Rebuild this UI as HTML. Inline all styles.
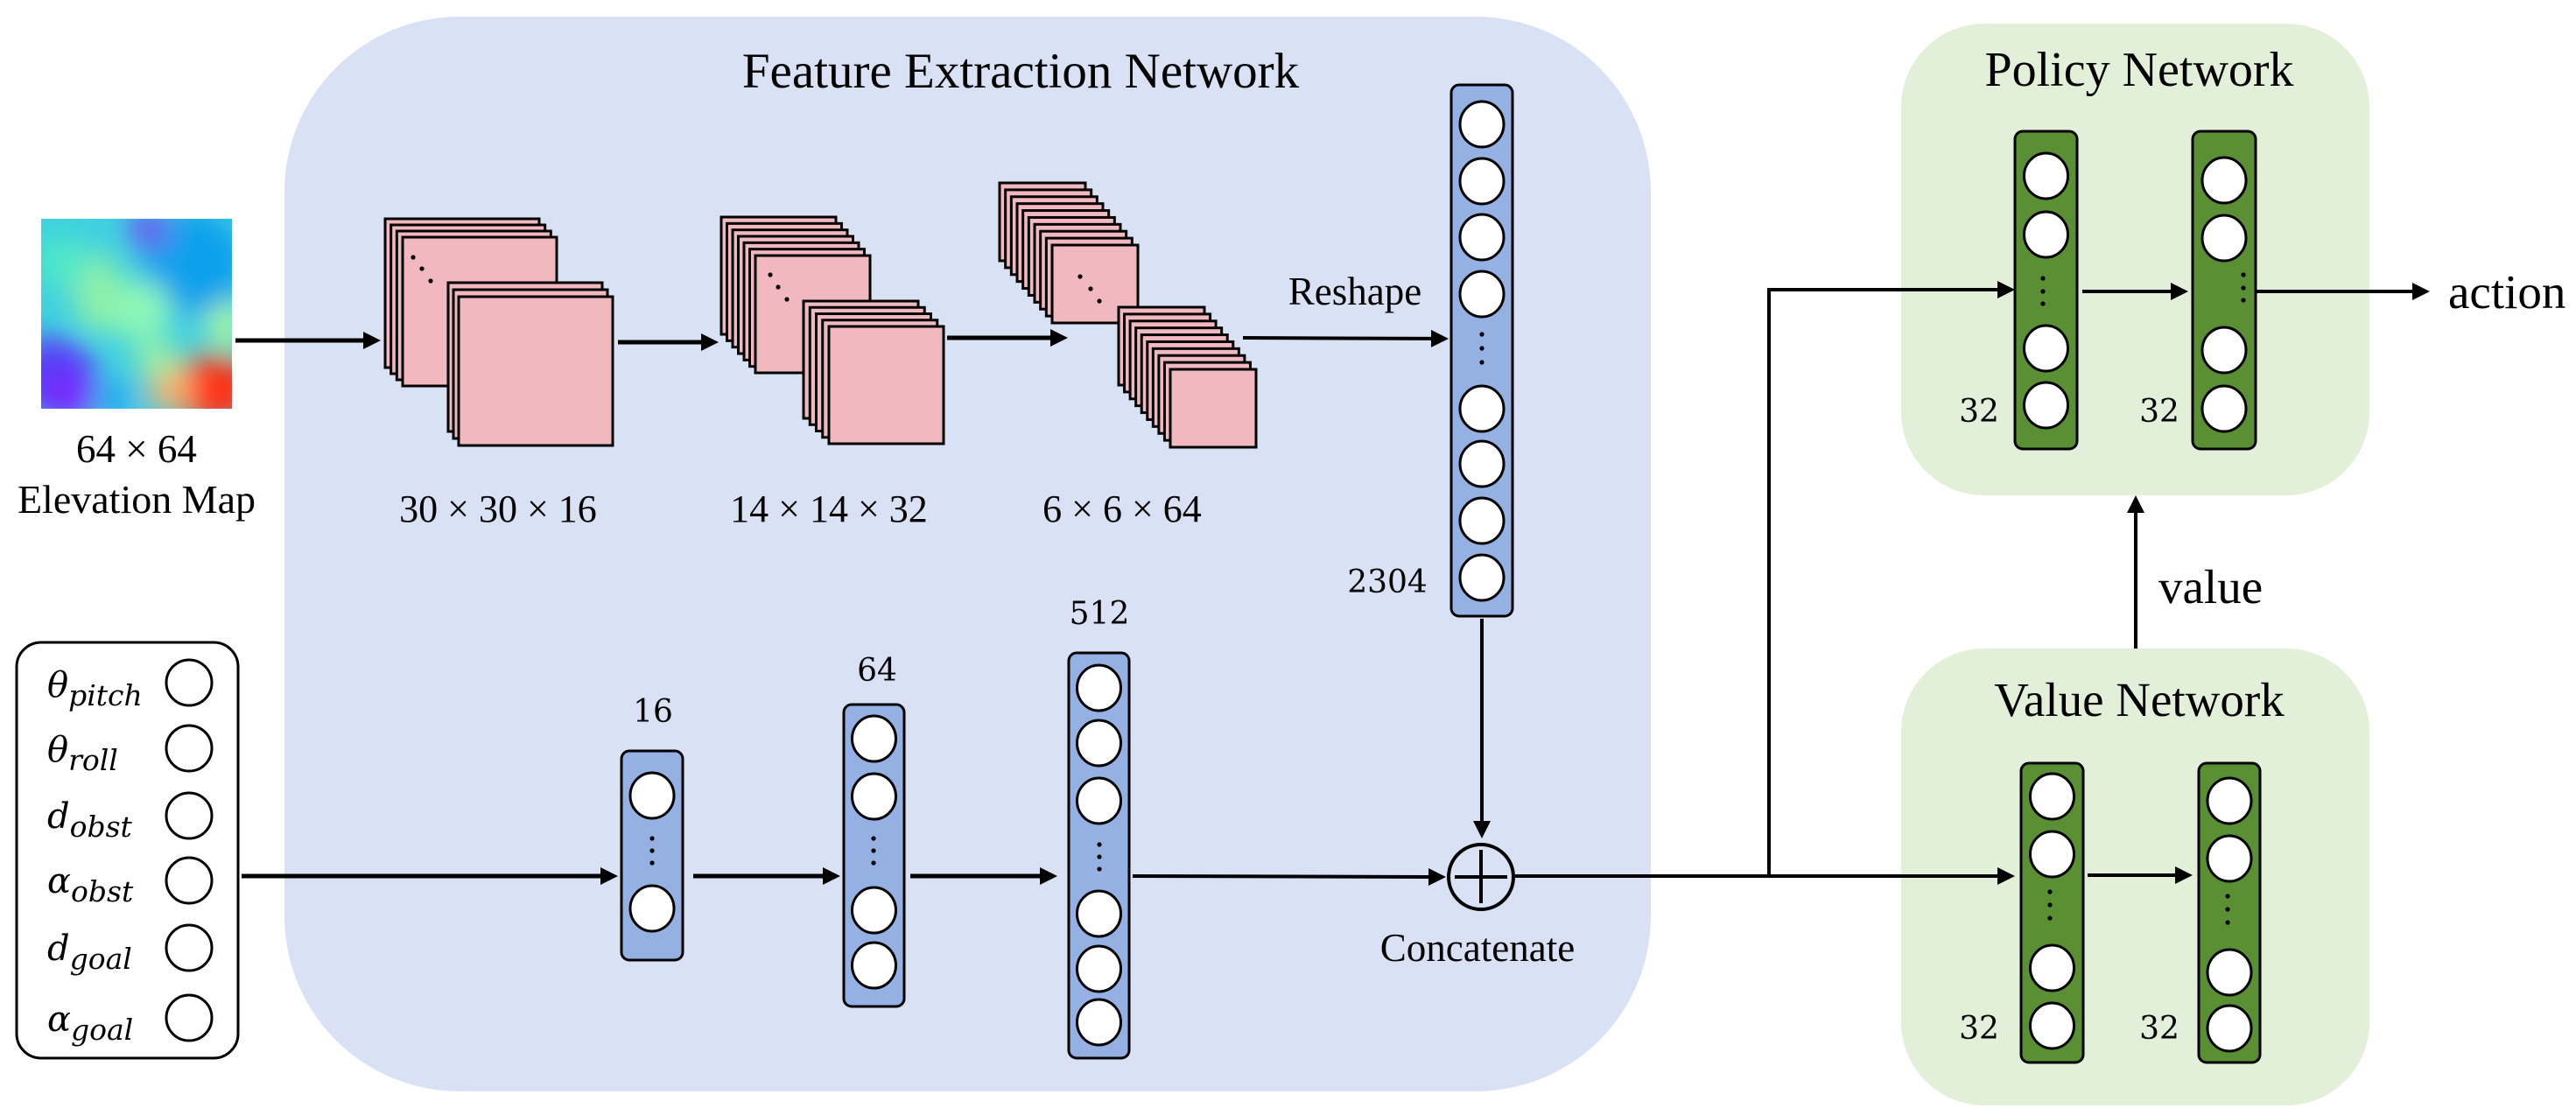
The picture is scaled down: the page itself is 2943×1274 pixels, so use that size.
<!DOCTYPE html>
<html><head><meta charset="utf-8"><style>
html,body{margin:0;padding:0;background:#fff;}
svg{display:block;}
text{font-family:"Liberation Serif",serif;fill:#000;}
text.n{font-family:"DejaVu Serif",serif;}
text.m{font-family:"DejaVu Serif",serif;font-style:italic;}
</style></head><body>
<svg id="s" width="2943" height="1274" viewBox="0 0 2943 1274" xmlns="http://www.w3.org/2000/svg">
<defs>
<filter id="bl" x="-20%" y="-20%" width="140%" height="140%"><feGaussianBlur stdDeviation="16"/></filter>
<clipPath id="mc"><rect x="47" y="250" width="218" height="217"/></clipPath>
</defs>
<path d="M525,19 H1686 A200,200 0 0 1 1886,219 V1047 A200,200 0 0 1 1686,1247 H525 A200,200 0 0 1 325,1047 V219 A200,200 0 0 1 525,19 Z" fill="#d9e2f4"/>
<rect x="2172" y="27" width="535" height="539" rx="95" fill="#e3f0d9"/>
<rect x="2172" y="741" width="535" height="522" rx="95" fill="#e3f0d9"/>
<text x="1166" y="100" font-size="57" text-anchor="middle">Feature Extraction Network</text>
<text x="2444" y="98" font-size="56" text-anchor="middle">Policy Network</text>
<text x="2444" y="818" font-size="55" text-anchor="middle">Value Network</text>
<g clip-path="url(#mc)">
<rect x="47" y="250" width="218" height="217" fill="#3fd0e0"/>
<g filter="url(#bl)">
<ellipse cx="220" cy="300" rx="60" ry="60" fill="#10a0ec"/>
<ellipse cx="170" cy="262" rx="22" ry="22" fill="#6a4cf4"/>
<ellipse cx="160" cy="355" rx="35" ry="35" fill="#8ef8b8"/>
<ellipse cx="112" cy="335" rx="28" ry="45" fill="#8ef0a8"/>
<ellipse cx="70" cy="300" rx="30" ry="30" fill="#50e8c8"/>
<ellipse cx="60" cy="430" rx="50" ry="45" fill="#5a3ef8"/>
<ellipse cx="80" cy="455" rx="35" ry="25" fill="#7a20ff"/>
<ellipse cx="130" cy="455" rx="25" ry="20" fill="#1aa8f0"/>
<ellipse cx="245" cy="445" rx="45" ry="40" fill="#ff3018"/>
<ellipse cx="195" cy="445" rx="25" ry="28" fill="#f8b070"/>
<ellipse cx="260" cy="372" rx="25" ry="25" fill="#a8f8a0"/>
<ellipse cx="180" cy="410" rx="25" ry="20" fill="#a0f0a0"/>
</g>
</g>
<text x="156" y="528" font-size="45" text-anchor="middle">64 × 64</text>
<text x="156" y="586" font-size="46" text-anchor="middle">Elevation Map</text>
<text x="569" y="596" font-size="44" text-anchor="middle">30 × 30 × 16</text>
<text x="947" y="596" font-size="44" text-anchor="middle">14 × 14 × 32</text>
<text x="1282" y="596" font-size="44" text-anchor="middle">6 × 6 × 64</text>
<text x="1548" y="348" font-size="45" text-anchor="middle">Reshape</text>
<text class="n" x="1585" y="677" font-size="36" text-anchor="middle">2304</text>
<text class="n" x="746" y="825" font-size="36" text-anchor="middle">16</text>
<text class="n" x="1002" y="778" font-size="36" text-anchor="middle">64</text>
<text class="n" x="1256" y="713" font-size="36" text-anchor="middle">512</text>
<text x="1688" y="1098" font-size="45" text-anchor="middle">Concatenate</text>
<text class="n" x="2261" y="482" font-size="36" text-anchor="middle">32</text>
<text class="n" x="2467" y="482" font-size="36" text-anchor="middle">32</text>
<text class="n" x="2261" y="1187" font-size="36" text-anchor="middle">32</text>
<text class="n" x="2467" y="1187" font-size="36" text-anchor="middle">32</text>
<text x="2797" y="352" font-size="55">action</text>
<text x="2466" y="689" font-size="55">value</text>
<rect x="19" y="734" width="253" height="475" rx="28" fill="#fff" stroke="#000" stroke-width="3"/>
<text class="m" x="54" y="796" font-size="40">θ<tspan font-size="33" dy="10">pitch</tspan></text>
<text class="m" x="54" y="870" font-size="40">θ<tspan font-size="33" dy="10">roll</tspan></text>
<text class="m" x="54" y="946" font-size="40">d<tspan font-size="33" dy="10">obst</tspan></text>
<text class="m" x="54" y="1020" font-size="40">α<tspan font-size="33" dy="10">obst</tspan></text>
<text class="m" x="54" y="1097" font-size="40">d<tspan font-size="33" dy="10">goal</tspan></text>
<text class="m" x="54" y="1178" font-size="40">α<tspan font-size="33" dy="10">goal</tspan></text>
<g id="g"></g>
</svg>
<script>
var o='';
function L(x1,y1,x2,y2,w,ar){w=w||4;
 if(ar){var dx=x2-x1,dy=y2-y1,l=Math.hypot(dx,dy),ux=dx/l,uy=dy/l,h=20,hw=10;
  var bx=x2-ux*h,by=y2-uy*h;
  o+='<line x1="'+x1+'" y1="'+y1+'" x2="'+bx+'" y2="'+by+'" stroke="#000" stroke-width="'+w+'"/>';
  o+='<polygon points="'+x2+','+y2+' '+(bx-uy*hw)+','+(by+ux*hw)+' '+(bx+uy*hw)+','+(by-ux*hw)+'" fill="#000"/>';
 } else o+='<line x1="'+x1+'" y1="'+y1+'" x2="'+x2+'" y2="'+y2+'" stroke="#000" stroke-width="'+w+'" stroke-linecap="square"/>';}
function C(cx,cy,r,fill){o+='<ellipse cx="'+cx+'" cy="'+cy+'" rx="'+r+'" ry="'+(r+1)+'" fill="'+(fill||'#fff')+'" stroke="#000" stroke-width="3"/>';}
function col(x,y,w,h,fill,cys,dots){o+='<rect x="'+x+'" y="'+y+'" width="'+w+'" height="'+h+'" rx="9" fill="'+fill+'" stroke="#000" stroke-width="3"/>';
 var cx=x+w/2;cys.forEach(function(c){C(cx,c,25)});
 if(dots){dots.forEach(function(d){o+='<circle cx="'+(d[0]||cx)+'" cy="'+d[1]+'" r="2.6" fill="#000"/>'});}}
function stack(x0,y0,x1,y1,n,w,h,dotsAt){for(var i=0;i<n;i++){var x=x0+(x1-x0)*i/(n-1),y=y0+(y1-y0)*i/(n-1);
 o+='<rect x="'+x+'" y="'+y+'" width="'+w+'" height="'+h+'" fill="#f2b8c0" stroke="#000" stroke-width="3"/>';}
 if(dotsAt){dotsAt.forEach(function(d){o+='<circle cx="'+d[0]+'" cy="'+d[1]+'" r="2.6" fill="#000"/>'});}}
stack(440,250,460,271,4,176,170,[[472,294],[482,307],[492,321]]);
stack(512,323,524,339,3,176,170);
stack(824,248,863,292,7,131,134,[[880,314],[889,328],[899,342]]);
stack(918,344,947,373,5,131,134);
stack(1142,209,1202,280,10,98,89,[[1234,316],[1246,330],[1256,344]]);
stack(1278,351,1337,422,10,98,89);
L(269,389,435,389,5,1);
L(706,391,821,391,5,1);
L(1082,386,1220,386,5,1);
L(1420,386,1655,387,4,1);
col(1658,97,70,607,'#95b0e2',[142,207,271,336,467,530,595,660],[[1693,382],[1693,398],[1693,414]]);
L(1693,707,1693,958,4,1);
o+='<circle cx="1692" cy="1002" r="37" fill="none" stroke="#000" stroke-width="4"/>';
L(1664,1002,1720,1002,4);L(1692,973,1692,1030,4);
col(710,858,70,239,'#95b0e2',[909,1038],[[745,958],[745,972],[745,986]]);
col(964,805,69,345,'#95b0e2',[844,910,1040,1103],[[998,958],[998,972],[998,986]]);
col(1221,746,69,463,'#95b0e2',[786,849,915,1044,1107,1168],[[1256,965],[1256,979],[1256,993]]);
L(276,1001,706,1001,5,1);
L(792,1001,960,1001,5,1);
L(1040,1001,1208,1001,5,1);
L(1294,1001,1652,1002,4,1);
L(1731,1001,2302,1001,4,1);
L(2021,1001,2021,331,4);
L(2021,331,2302,331,4,1);
col(2302,150,71,363,'#5a8f33',[201,268,398,463],[[2334,318],[2334,333],[2334,347]]);
col(2505,150,72,363,'#5a8f33',[206,272,400,467],[[2563,314],[2563,329],[2563,343]]);
L(2379,333,2500,333,4,1);
L(2578,333,2776,333,4,1);
col(2309,872,71,342,'#5a8f33',[910,976,1106,1172],[[2342,1019],[2342,1034],[2342,1049]]);
col(2512,872,70,342,'#5a8f33',[915,981,1111,1175],[[2545,1024],[2545,1039],[2545,1054]]);
L(2385,1000,2505,1000,4,1);
L(2440,741,2440,566,4,1);
[780,855,932,1006,1083,1163].forEach(function(c){o+='<ellipse cx="216" cy="'+c+'" rx="26" ry="26" fill="#fff" stroke="#000" stroke-width="3"/>';});
document.getElementById('g').innerHTML=o;
</script>
</body></html>
